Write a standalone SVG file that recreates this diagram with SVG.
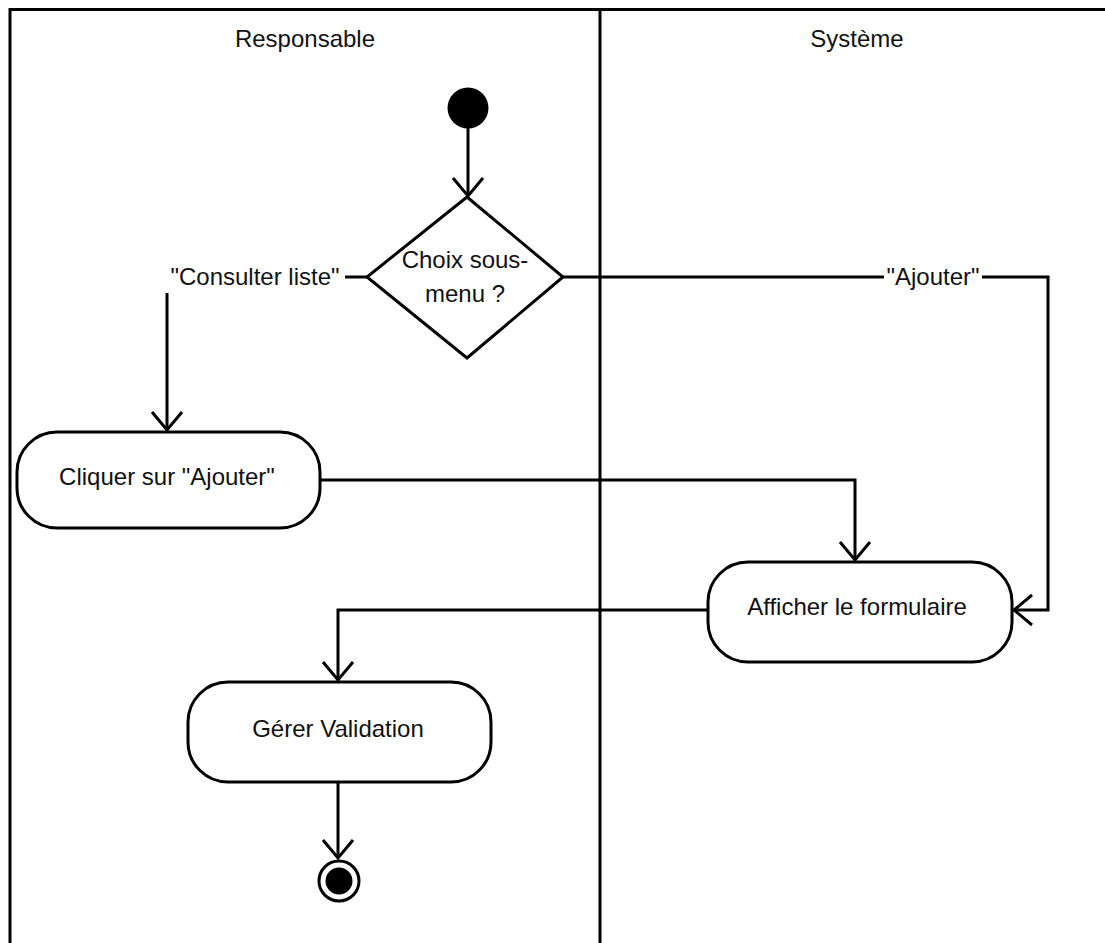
<svg xmlns="http://www.w3.org/2000/svg" width="1105" height="943" viewBox="0 0 1105 943">
<style>
  text { font-family: "Liberation Sans", Arial, sans-serif; font-size: 24px; fill: #111; text-anchor: middle; }
  .frame { stroke: #000; stroke-width: 3; fill: none; }
  .node { stroke: #000; stroke-width: 3; fill: #fff; }
  .edge { stroke: #000; stroke-width: 3; fill: none; marker-end: url(#arrow); }
  .lbl { fill: #fff; stroke: none; }
</style>
<defs>
  <marker id="arrow" markerUnits="userSpaceOnUse" markerWidth="40" markerHeight="40" viewBox="-20 -20 40 40" refX="0" refY="0" orient="auto">
    <path d="M -18 -15 L 0 0 L -18 15" fill="none" stroke="#000" stroke-width="3"/>
  </marker>
</defs>
<rect x="0" y="0" width="1105" height="943" fill="#fff"/>
<g id="lanes">
  <path class="frame" d="M 10 943 L 10 9.5 L 1105 9.5 M 600 9.5 L 600 943"/>
  <text x="305" y="47">Responsable</text>
  <text x="857" y="47">Système</text>
</g>
<g id="connectors">
  <path class="edge" d="M 468 128 L 468 196"/>
  <path class="edge" d="M 367 277 L 167 277 L 167 430"/>
  <path class="edge" d="M 562 277 L 1048 277 L 1048 610 L 1014 610"/>
  <path class="edge" d="M 320 480 L 855 480 L 855 560"/>
  <path class="edge" d="M 708 610 L 338 610 L 338 680"/>
  <path class="edge" d="M 338 783 L 338 858"/>
  <rect class="lbl" x="163" y="263" width="182" height="30"/>
  <text x="255" y="285">"Consulter liste"</text>
  <rect class="lbl" x="884" y="263" width="98" height="30"/>
  <text x="933" y="285">"Ajouter"</text>
</g>
<g id="start">
  <circle cx="468" cy="108" r="20.5" fill="#000"/>
</g>
<g id="decision">
  <polygon class="node" points="467,197 563,277 467,358 367,277"/>
  <text x="465" y="268">Choix sous-</text>
  <text x="465" y="302">menu ?</text>
</g>
<g id="cliquer">
  <rect class="node" x="17" y="432" width="303" height="96" rx="40" ry="40"/>
  <text x="167" y="485">Cliquer sur "Ajouter"</text>
</g>
<g id="afficher">
  <rect class="node" x="708" y="562" width="304" height="100" rx="40" ry="40"/>
  <text x="857" y="615">Afficher le formulaire</text>
</g>
<g id="gerer">
  <rect class="node" x="188" y="682" width="303" height="100" rx="40" ry="40"/>
  <text x="338" y="737">Gérer Validation</text>
</g>
<g id="end">
  <circle cx="339" cy="881" r="20" fill="#fff" stroke="#000" stroke-width="3"/>
  <circle cx="339" cy="881" r="13.5" fill="#000"/>
</g>
</svg>
